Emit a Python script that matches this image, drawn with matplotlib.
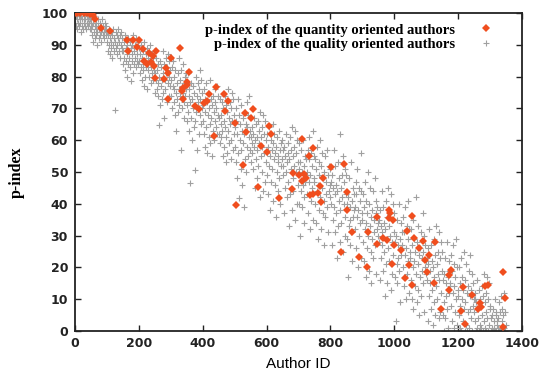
import numpy as np
import matplotlib
matplotlib.use("Agg")
import matplotlib.pyplot as plt

# ---------------- data ----------------
quantity_x = [1, 7, 16, 27, 38, 47, 51, 55, 62, 80, 110, 164, 181, 201, 166, 193, 212, 216, 231, 245,
              254, 224, 237, 248, 300, 329, 285, 292, 279, 250, 292, 356, 350, 337, 334, 339, 352,
              376, 389, 405, 412, 420, 441, 436, 467, 471, 480, 500, 533, 536, 550, 556, 527, 583,
              602, 609, 613, 574, 504, 640, 711, 744, 732, 801, 843, 684, 702, 718, 723, 710, 778,
              767, 679, 736, 746, 762, 772, 851, 853, 866, 832, 889, 913, 918, 945, 945, 964, 978,
              982, 986, 984, 996, 999, 992, 1020, 1041, 1056, 1047, 1034, 1054, 1061, 1078, 1091,
              1096, 1101, 1110, 1127, 1125, 1146, 1171, 1177, 1172, 1214, 1210, 1221, 1242, 1268,
              1272, 1263, 1284, 1292, 1339, 1346, 1341]
quantity_y = [100, 100, 100, 100, 100, 99.6, 100, 99.4, 98.1, 95.3, 94.4, 91.5, 91.5, 91.5, 87.9,
              89.2, 88.7, 85, 87.4, 86.5, 88.1, 83.9, 84.7, 83.4, 86, 88.9, 82.7, 81.1, 79.2, 79.7,
              73.1, 81.3, 77.3, 76.3, 75.5, 72.9, 78.3, 70.6, 69.7, 71.8, 72.4, 74.6, 76.6, 61.3,
              74.6, 69.2, 72.4, 65.5, 68.7, 62.6, 67, 69.9, 52.2, 58.1, 56.2, 64.4, 61.9, 45.2,
              39.6, 41.9, 60.5, 57.6, 54.9, 51.5, 52.6, 49.8, 49, 49.5, 48.2, 47.1, 48, 45.5, 44.7,
              42.9, 43.1, 43.4, 40.5, 43.7, 37.9, 31.1, 24.8, 23.4, 20, 31.1, 35.9, 27.3, 29.4, 28.5,
              38.2, 37.1, 35.5, 34.8, 26.9, 21.1, 25.6, 31.3, 36.1, 20.8, 16.6, 14.5, 29.2, 26.1,
              28.2, 22.2, 18.5, 23.9, 28, 15, 6.9, 17.7, 19.2, 12.9, 13.8, 6.3, 2.2, 11.4, 8.7, 7.7,
              6.8, 14, 14.5, 18.4, 10.3, 1.4]

# quality oriented authors: p-index values, listed per group of 50 consecutive author IDs
group_size = 50
quality_groups = [
    [97, 100, 96, 99, 98, 95, 100, 97, 99, 96, 98, 100, 97, 94, 99, 98, 96, 100, 95, 98, 97, 99, 96, 98, 100, 95, 97, 99, 98, 96, 97, 99, 95, 98, 97],
    [95, 98, 93, 96, 91, 97, 94, 99, 92, 96, 95, 93, 97, 90, 94, 98, 96, 92, 95, 93, 97, 94, 96, 91, 95, 98, 93, 96, 92, 94, 97, 95, 93, 96, 94],
    [91, 94, 88, 93, 90, 95, 87, 92, 89, 94, 91, 86, 93, 90, 95, 88, 92, 69.5, 91, 94, 89, 93, 87, 90, 92, 95, 88, 91, 86, 93, 90, 94, 89, 92, 88],
    [88, 84, 91, 86, 93, 82, 89, 85, 90, 87, 80, 92, 84, 88, 86, 91, 83, 89, 78.5, 87, 90, 85, 93, 81, 88, 84, 90, 86, 92, 83, 89, 85, 87, 91, 84],
    [85, 89, 81, 87, 83, 90, 79, 86, 82, 88, 84, 77, 91, 85, 80, 87, 83, 89, 76, 84, 86, 82, 88, 80, 85, 90, 78, 83, 87, 81, 86, 84, 79, 88, 82],
    [75, 81, 79, 86, 76, 82, 74, 84, 78, 64.8, 80, 71, 85, 77, 83, 73, 79, 88, 75, 81, 67, 84, 79, 76, 86, 81, 72, 83, 78, 87, 80, 74, 85, 77, 82],
    [79, 74, 83, 70, 77, 85, 72, 80, 76, 68, 82, 75, 63, 78, 73, 81, 69, 86, 76, 71, 79, 74, 57, 82, 77, 70, 84, 75, 72, 78, 67, 80, 74, 76, 81],
    [66, 71, 81, 69, 76, 63, 74, 46.5, 72, 67, 78, 60, 73, 70, 77, 64, 75, 50.5, 71, 66, 80, 69, 74, 57, 78, 72, 62, 76, 68, 82, 73, 65, 79, 70, 75],
    [71, 66, 76, 62, 73, 58, 69, 78, 64, 72, 56, 68, 75, 61, 70, 79, 65, 59, 73, 67, 55, 71, 63, 74, 69, 60, 76, 66, 72, 64, 70, 77, 62, 68, 74],
    [62, 67, 59, 73, 65, 68, 61, 72, 63, 55, 70, 66, 58, 74, 64, 53, 71, 61, 69, 56, 76, 63, 67, 59, 72, 65, 54, 70, 60, 75, 66, 57, 73, 62, 68],
    [64, 58, 70, 53, 66, 48, 62, 73, 56, 68, 41.8, 60, 65, 51, 71, 57, 63, 46, 67, 59, 39, 62, 69, 54, 65, 50, 72, 58, 64, 55, 68, 61, 74, 57, 63],
    [61, 53, 59, 64, 56, 62, 51, 67, 58, 60, 45, 65, 54, 61, 48, 57, 66, 52, 63, 59, 42, 69, 55, 61, 50, 64, 58, 44, 68, 56, 62, 47, 66, 53, 60],
    [56, 49, 62, 43, 58, 52, 64, 38, 55, 60, 47, 57, 51, 65, 41, 59, 54, 62, 46, 56, 36, 58, 50, 61, 44, 55, 53, 63, 48, 57, 40, 59, 52, 60, 54],
    [52, 57, 49, 58, 37, 55, 45, 62, 50, 53, 42, 59, 47, 56, 33, 54, 43, 61, 51, 57, 38, 64, 48, 55, 44, 58, 52, 35, 63, 50, 56, 40, 60, 46, 53],
    [59, 40, 51, 30, 53, 44, 57, 39, 50, 46, 60, 42, 52, 34, 55, 47, 54, 49, 50, 43, 57, 37, 54, 47, 61, 32, 49, 56, 41, 52, 45, 63, 35, 55, 48],
    [47, 40, 54, 34, 51, 44, 58, 29, 46, 53, 38, 49, 42, 60, 32, 52, 45, 56, 37, 48, 27, 50, 41, 55, 36, 47, 43, 57, 39, 49, 31, 52, 44, 51, 46],
    [42, 47, 40, 49, 27, 45, 35, 57, 39, 43, 31, 52, 37, 46, 23, 44, 33, 53, 41, 48, 28, 62, 38, 45, 34, 49, 42, 25, 55, 40, 47, 30, 51, 36, 43],
    [49, 29, 40, 17, 42, 33, 48, 27, 39, 35, 53, 31, 41, 22, 45, 36, 43, 38, 39, 32, 47, 26, 43, 36, 51, 20, 38, 45, 30, 41, 34, 56, 23, 44, 37],
    [35, 28, 43, 22, 39, 32, 47, 17, 34, 41, 26, 37, 30, 50, 19, 40, 33, 45, 25, 36, 15, 38, 29, 44, 23, 35, 31, 48, 27, 37, 18, 41, 32, 39, 34],
    [30, 35, 28, 38, 16, 33, 23, 44, 27, 31, 19, 39, 25, 34, 11, 32, 21, 41, 29, 36, 15, 45, 26, 33, 22, 37, 30, 13, 43, 28, 35, 18, 40, 24, 31],
    [37, 17, 28, 3, 30, 21, 35, 15, 27, 23, 40, 19, 29, 9, 34, 24, 31, 26, 27, 20, 36, 14, 31, 24, 39, 10, 26, 33, 18, 29, 22, 41, 12, 32, 25],
    [23, 16, 32, 10, 27, 20, 35, 7, 22, 29, 14, 25, 18, 42, 9, 28, 21, 33, 13, 24, 5, 26, 17, 31, 11, 23, 19, 37, 15, 25, 6, 30, 20, 27, 22],
    [18, 23, 16, 26, 3, 21, 11, 32, 15, 19, 7, 27, 13, 22, 2, 20, 9, 29, 17, 24, 5, 33, 14, 21, 10, 25, 18, 4, 31, 16, 23, 6, 28, 12, 19],
    [25, 5, 16, 0, 18, 9, 23, 4, 15, 11, 28, 7, 17, 1, 22, 12, 19, 14, 15, 8, 24, 3, 19, 12, 27, 1, 14, 21, 6, 17, 10, 29, 2, 20, 13],
    [11, 5, 20, 1, 15, 8, 23, 0, 10, 17, 3, 13, 7, 25, 0, 16, 9, 21, 2, 12, 0, 14, 6, 19, 1, 11, 7, 24, 4, 13, 0, 18, 8, 15, 10],
    [6, 10, 3, 12, 0, 9, 1, 16, 4, 7, 0, 13, 2, 10, 0, 8, 1, 14, 5, 11, 0, 18, 3, 9, 1, 12, 6, 0, 17, 4, 10, 0, 15, 2, 7],
    [8, 0, 4, 0, 5, 1, 7, 0, 3, 1, 10, 0, 5, 0, 6, 2, 3, 1, 4, 0, 9, 0, 6, 1, 11, 0, 3, 7, 0, 5, 1, 12, 0, 6, 2],
]

x_ticks = [0, 200, 400, 600, 800, 1000, 1200, 1400]
y_ticks = [0, 10, 20, 30, 40, 50, 60, 70, 80, 90, 100]
label_quantity = "p-index of the quantity oriented authors"
label_quality = "p-index of the quality oriented authors"

# author IDs of the quality group members
quality_x = []
quality_y = []
for gi, grp in enumerate(quality_groups):
    n = len(grp)
    ids = gi * group_size + np.arange(n) * group_size / n
    quality_x.extend(ids.tolist())
    quality_y.extend(grp)

# ---------------- plot ----------------
fig = plt.figure(figsize=(5.4, 3.74), dpi=100)
ax = fig.add_axes([75 / 540, 43 / 374, 447 / 540, 318 / 374])

ax.plot(quantity_x, quantity_y, linestyle="none", marker="D", markersize=4.0,
        color="#f04e1e", markeredgewidth=0, label=label_quantity, zorder=3)
ax.plot(quality_x, quality_y, linestyle="none", marker="+", markersize=5,
        markeredgewidth=0.8, color="#a0a0a0", label=label_quality, zorder=2)

ax.set_xlim(0, 1400)
ax.set_ylim(0, 100)
ax.set_xticks(x_ticks)
ax.set_yticks(y_ticks)

tick_font = dict(family="DejaVu Sans", weight="bold", size=9)
ax.set_xticklabels([str(t) for t in x_ticks], fontdict=tick_font)
ax.set_yticklabels([str(t) for t in y_ticks], fontdict=tick_font)
ax.tick_params(axis="both", direction="in", length=4, width=1, top=True, right=True, colors="#222222")
ax.tick_params(axis="y", pad=5)
ax.tick_params(axis="x", pad=4.5)
for s in ax.spines.values():
    s.set_linewidth(1.3)
    s.set_color("#222222")

ax.set_xlabel("Author ID", family="Liberation Sans", size=11, labelpad=5)
ax.set_ylabel("p-index", family="Liberation Serif", weight="bold", size=11.5, labelpad=12)

leg = ax.legend(loc="upper right", bbox_to_anchor=(0.955, 0.995), markerfirst=False, frameon=False,
                prop=dict(family="Liberation Serif", weight="bold", size=10.5),
                handlelength=1.0, handletextpad=1.6, labelspacing=0.1, borderaxespad=0.2)

fig.savefig("out.png", dpi=100)
